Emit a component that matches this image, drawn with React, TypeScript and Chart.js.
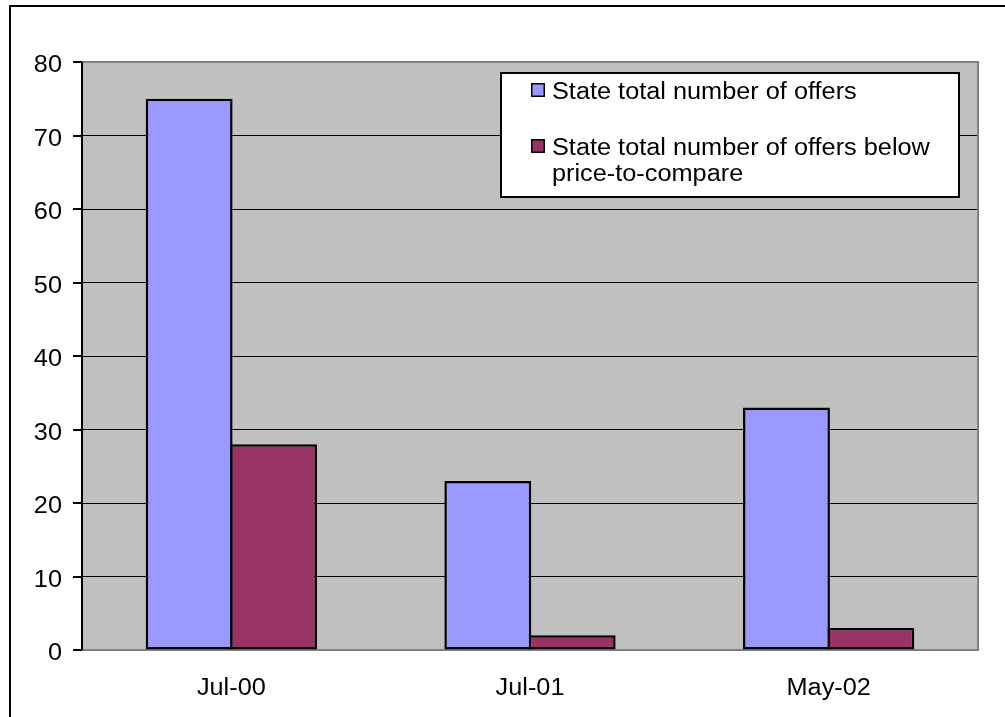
import React, { useEffect, useRef } from "react";
import { Chart, registerables } from "chart.js";

Chart.register(...registerables);

// Survey periods and offer counts
const categories = ["Jul-00", "Jul-01", "May-02"];
const totalOffers = [75, 23, 33];
const offersBelowPtc = [28, 2, 3];
const yTickValues = [0, 10, 20, 30, 40, 50, 60, 70, 80];
const seriesNames = [
  "State total number of offers",
  "State total number of offers below price-to-compare",
];
const legendLines = [
  ["State total number of offers"],
  ["State total number of offers below", "price-to-compare"],
];
const seriesColors = ["#9999FF", "#993366"];

const FONT = "23px 'Liberation Sans', Arial, sans-serif";
const SX = 1.1; // slightly widened lettering

function drawText(
  ctx: CanvasRenderingContext2D,
  text: string,
  x: number,
  y: number,
  align: "left" | "center" | "right"
) {
  ctx.save();
  ctx.font = FONT;
  ctx.textAlign = "left";
  ctx.textBaseline = "alphabetic";
  ctx.fillStyle = "#000";
  const w = ctx.measureText(text).width * SX;
  let start = x;
  if (align === "center") start = x - w / 2;
  if (align === "right") start = x - w;
  ctx.translate(start, y);
  ctx.scale(SX, 1);
  ctx.fillText(text, 0, 0);
  ctx.restore();
}

const decorPlugin = {
  id: "decor",
  beforeDraw(chart: any) {
    const { ctx, chartArea: a } = chart;
    ctx.save();
    ctx.fillStyle = "#fff";
    ctx.fillRect(0, 0, chart.width, chart.height);
    // outer frame
    ctx.strokeStyle = "#000";
    ctx.lineWidth = 2;
    ctx.beginPath();
    ctx.moveTo(10, chart.height + 2);
    ctx.lineTo(10, 6);
    ctx.lineTo(chart.width + 2, 6);
    ctx.stroke();
    // plot background
    ctx.fillStyle = "#C0C0C0";
    ctx.fillRect(a.left, a.top, a.right - a.left, a.bottom - a.top);
    ctx.restore();
  },
  beforeDatasetsDraw(chart: any) {
    const { ctx, chartArea: a, scales } = chart;
    const y = scales.y;
    ctx.save();
    // plot border (top, right, bottom)
    ctx.strokeStyle = "#808080";
    ctx.lineWidth = 2;
    ctx.beginPath();
    ctx.moveTo(a.left, a.top);
    ctx.lineTo(a.right, a.top);
    ctx.lineTo(a.right, a.bottom);
    ctx.lineTo(a.left, a.bottom);
    ctx.stroke();
    // value axis with tick marks
    ctx.strokeStyle = "#000";
    ctx.beginPath();
    ctx.moveTo(a.left, a.top);
    ctx.lineTo(a.left, a.bottom);
    yTickValues.forEach((v) => {
      const py = Math.round(y.getPixelForValue(v));
      ctx.moveTo(a.left - 9, py);
      ctx.lineTo(a.left, py);
    });
    ctx.stroke();
    ctx.restore();
  },
  afterDatasetsDraw(chart: any) {
    const { ctx, chartArea: a, scales } = chart;
    const x = scales.x;
    const y = scales.y;
    // tick labels
    yTickValues.forEach((v) => {
      drawText(ctx, String(v), a.left - 20, y.getPixelForValue(v) + 10, "right");
    });
    categories.forEach((c, i) => {
      drawText(ctx, c, x.getPixelForValue(i), a.bottom + 45, "center");
    });
    // legend box
    ctx.save();
    ctx.fillStyle = "#fff";
    ctx.fillRect(501, 73, 458, 124);
    ctx.strokeStyle = "#000";
    ctx.lineWidth = 2;
    ctx.strokeRect(501, 73, 458, 124);
    const rows = [
      { swatchTop: 83, baselines: [99] },
      { swatchTop: 139, baselines: [155, 181] },
    ];
    rows.forEach((r, i) => {
      ctx.fillStyle = seriesColors[i];
      ctx.fillRect(531, r.swatchTop, 14, 14);
      ctx.lineWidth = 1.5;
      ctx.strokeStyle = "#000";
      ctx.strokeRect(531.75, r.swatchTop + 0.75, 12.5, 12.5);
      legendLines[i].forEach((line, j) => {
        drawText(ctx, line, 552, r.baselines[j], "left");
      });
    });
    ctx.restore();
  },
};

export default function App() {
  const canvasRef = useRef<HTMLCanvasElement | null>(null);

  useEffect(() => {
    if (!canvasRef.current) return;
    const chart = new Chart(canvasRef.current, {
      type: "bar",
      data: {
        labels: categories,
        datasets: [
          {
            label: seriesNames[0],
            data: totalOffers,
            backgroundColor: seriesColors[0],
            borderColor: "#000",
            borderWidth: 2.5,
            borderSkipped: false,
          },
          {
            label: seriesNames[1],
            data: offersBelowPtc,
            backgroundColor: seriesColors[1],
            borderColor: "#000",
            borderWidth: 2.5,
            borderSkipped: false,
          },
        ],
      },
      options: {
        responsive: false,
        animation: false,
        events: [],
        datasets: {
          bar: { categoryPercentage: 0.565, barPercentage: 1.03 },
        },
        layout: { padding: { left: 82, right: 27, top: 62, bottom: 67 } },
        plugins: {
          legend: { display: false },
          tooltip: { enabled: false },
          title: { display: false },
        },
        scales: {
          x: {
            grid: { display: false, drawTicks: false },
            border: { display: false },
            ticks: { display: false },
            afterFit: (s: any) => {
              s.height = 0;
            },
          },
          y: {
            min: 0,
            max: 80,
            ticks: { display: false, stepSize: 10 },
            grid: { color: "#000", lineWidth: 1, drawTicks: false },
            border: { display: false },
            afterFit: (s: any) => {
              s.width = 0;
            },
          },
        },
      },
      plugins: [decorPlugin],
    });
    return () => chart.destroy();
  }, []);

  return (
    <div style={{ position: "absolute", left: 0, top: 0, width: 1005, height: 717 }}>
      <canvas ref={canvasRef} width={1005} height={717} style={{ display: "block" }} />
    </div>
  );
}
